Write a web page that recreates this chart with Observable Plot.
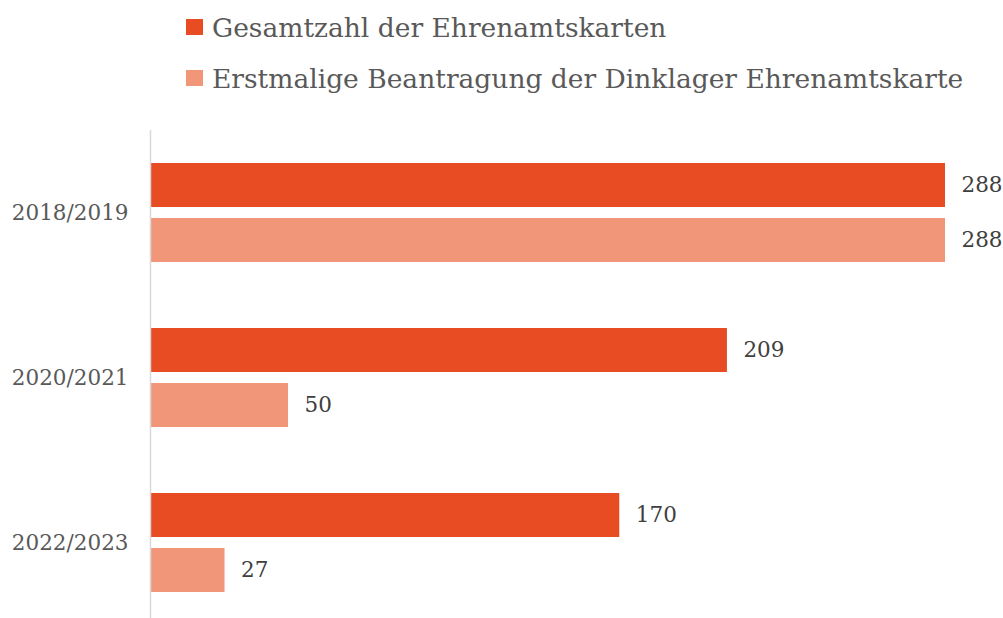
<!DOCTYPE html>
<html>
<head>
<meta charset="utf-8">
<script src="https://cdn.jsdelivr.net/npm/d3@7"></script>
<script src="https://cdn.jsdelivr.net/npm/@observablehq/plot@0.6"></script>
<style>
  html, body { margin: 0; padding: 0; background: #fff; overflow: hidden; width: 1003px; height: 618px; }
  #legend { position: relative; height: 110px; font-family: "DejaVu Serif", serif; color: #595959; }
  .item { position: absolute; left: 186px; display: flex; align-items: center; font-size: 26.5px; white-space: nowrap; }
  .sw { width: 17px; height: 16px; margin-right: 9px; }
</style>
</head>
<body>
<div id="legend"></div>
<div id="chart"></div>
<script>
const periods = ["2018/2019", "2020/2021", "2022/2023"];
const seriesNames = ["Gesamtzahl der Ehrenamtskarten", "Erstmalige Beantragung der Dinklager Ehrenamtskarte"];
const gesamt = [288, 209, 170];
const erstmalig = [288, 50, 27];
const colors = ["#E84C22", "#F2967A"];

const data = periods.flatMap((p, i) => [
  {period: p, series: seriesNames[0], value: gesamt[i]},
  {period: p, series: seriesNames[1], value: erstmalig[i]}
]);

const legend = document.getElementById("legend");
const rowTops = [11, 62];
seriesNames.forEach((s, i) => {
  const d = document.createElement("div");
  d.className = "item";
  d.style.top = rowTops[i] + "px";
  d.style.height = "32px";
  const sw = document.createElement("span");
  sw.className = "sw";
  sw.style.background = colors[i];
  const t = document.createElement("span");
  t.textContent = s;
  d.appendChild(sw); d.appendChild(t);
  legend.appendChild(d);
});

const chart = Plot.plot({
  width: 1003,
  height: 515,
  marginTop: 20,
  marginBottom: 0,
  marginLeft: 150,
  marginRight: 58,
  style: {fontFamily: "DejaVu Serif, serif", fontSize: "21.5px", color: "#595959", background: "transparent"},
  x: {domain: [0, 288], axis: null},
  y: {domain: seriesNames, axis: null, paddingInner: 0.2, paddingOuter: 0.6},
  fy: {domain: periods, padding: 0, label: null},
  color: {domain: seriesNames, range: colors},
  marks: [
    Plot.axisFy({anchor: "left", tickSize: 0, tickPadding: 22, label: null, fontSize: 21.5, fill: "#595959"}),
    Plot.barX(data, {x: "value", y: "series", fy: "period", fill: "series"}),
    Plot.text(data, {x: "value", y: "series", fy: "period", text: d => String(d.value), dx: 16, textAnchor: "start", fill: "#404040", fontSize: 21.5}),
    Plot.ruleX([0], {stroke: "#d9d9d9", strokeWidth: 1.5})
  ]
});
document.getElementById("chart").appendChild(chart);
</script>
</body>
</html>
